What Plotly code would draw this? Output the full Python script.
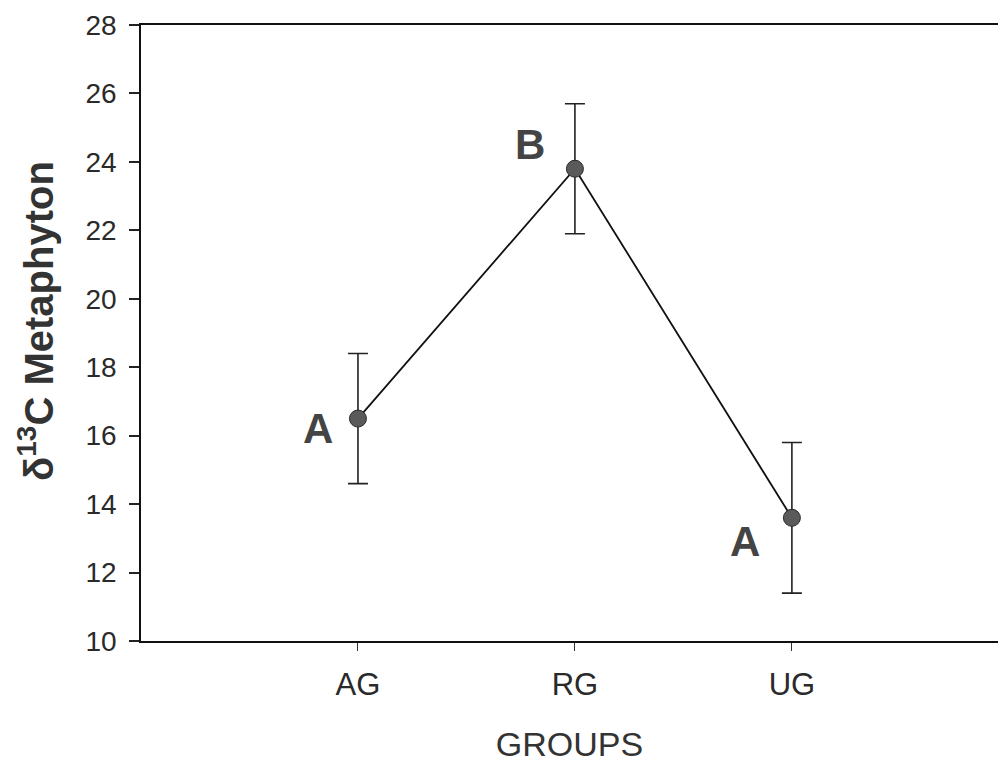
import plotly.graph_objects as go

groups = ["AG", "RG", "UG"]
xpos = [1, 2, 3]
means = [16.5, 23.8, 13.6]
errors = [1.9, 1.9, 2.2]
letters = ["A", "B", "A"]
letter_dx = [-40, -45, -47]
letter_dy = [-10, 24, -24]
y_title = "<b>δ<sup>13</sup>C Metaphyton</b>"
x_title = "GROUPS"

fig = go.Figure()
fig.add_trace(go.Scatter(
    x=xpos, y=means, mode="lines+markers",
    line=dict(color="#111111", width=1.8),
    marker=dict(size=17, color="#5a5a5a", line=dict(color="#2a2a2a", width=1)),
    error_y=dict(type="data", array=errors, visible=True, color="#222222",
                 thickness=1.6, width=10),
    showlegend=False,
))

for xv, yv, t, dx, dy in zip(xpos, means, letters, letter_dx, letter_dy):
    fig.add_annotation(x=xv, y=yv, text="<b>" + t + "</b>", showarrow=False,
                       xshift=dx, yshift=dy,
                       font=dict(family="Arial, Liberation Sans", size=42, color="#444444"))

fig.add_annotation(xref="paper", yref="paper", x=0, y=0.5, text=y_title,
                   textangle=-90, showarrow=False, xanchor="center", yanchor="middle",
                   xshift=-105, yshift=12,
                   font=dict(family="Arial, Liberation Sans", size=40, color="#333333"))

fig.update_layout(
    width=990, height=755,
    margin=dict(l=133, r=0, t=17, b=122),
    plot_bgcolor="white", paper_bgcolor="white",
    font=dict(family="Arial, Liberation Sans", color="#2a2a2a"),
)
fig.update_xaxes(
    range=[0, 3.95], tickvals=xpos, ticktext=groups,
    showline=True, linecolor="#111111", linewidth=1.6, mirror=True,
    ticks="outside", ticklen=8, tickcolor="#333333", tickwidth=1.2,
    showgrid=False, zeroline=False,
    tickfont=dict(size=31, color="#2a2a2a"), ticklabelstandoff=7,
    title=dict(text=x_title, font=dict(size=34, color="#333333"), standoff=34),
)
fig.update_yaxes(
    range=[10, 28], dtick=2,
    showline=True, linecolor="#111111", linewidth=1.6,
    ticks="outside", ticklen=10, tickcolor="#222222", tickwidth=1.6,
    showgrid=False, zeroline=False,
    tickfont=dict(size=28, color="#2a2a2a"), ticklabelstandoff=7,
)

fig.write_html("out.html")
